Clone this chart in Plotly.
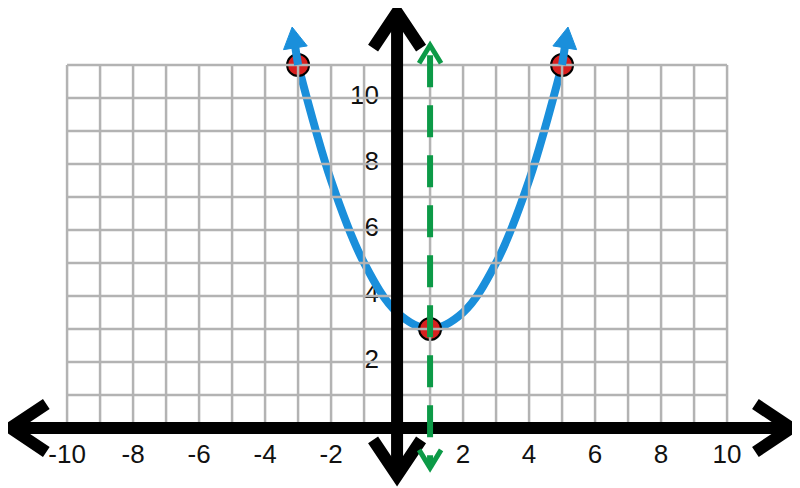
import math
import plotly.graph_objects as go

# ------------------------------------------------------------
# Data
# ------------------------------------------------------------
curve_x = [-3, -2, -1, 0, 1, 2, 3, 4, 5]
curve_y = [11, 7.5, 5, 3.5, 3, 3.5, 5, 7.5, 11]

point_x = [-3, 1, 5]
point_y = [11, 3, 11]

curve_tips = [(-3.18, 12.15), (5.18, 12.15)]   # where the blue arrows end
sym_x = 1                                       # axis of symmetry
sym_ends = (-1.21, 11.6)

x_tick_vals = [-10, -8, -6, -4, -2, 2, 4, 6, 8, 10]
y_tick_vals = [2, 4, 6, 8, 10]

grid_x = list(range(-10, 11))
grid_y = list(range(0, 12))

x_axis_ends = (-11.72, 11.95)
y_axis_ends = (-1.45, 12.6)

# the page body keeps an 8px margin, so the figure is 792x480
W, H = 792, 480
X_RANGE = [-11.79, 12.21]
Y_RANGE = [-1.82, 12.727]
PX = W / (X_RANGE[1] - X_RANGE[0])   # pixels per unit (same on both axes)

BLUE = "#1a8fdb"
RED = "#d8201f"
GREEN = "#0c9a47"
GREY = "#b3b3b3"
FONT = "Liberation Sans, Arial, sans-serif"


def head_path(tip, frm, length, half, closed=False):
    # arrow head at `tip`, pointing away from `frm`; length/half in pixels
    dx, dy = tip[0] - frm[0], tip[1] - frm[1]
    n = math.hypot(dx, dy)
    ux, uy = dx / n, dy / n
    bx, by = tip[0] - ux * length / PX, tip[1] - uy * length / PX
    ax_, ay_ = bx - uy * half / PX, by + ux * half / PX
    cx, cy = bx + uy * half / PX, by - ux * half / PX
    p = f"M{ax_},{ay_} L{tip[0]},{tip[1]} L{cx},{cy}"
    return p + " Z" if closed else p


shapes = []

# grid
for gx in grid_x:
    shapes.append(dict(type="line", x0=gx, x1=gx, y0=grid_y[0], y1=grid_y[-1],
                       line=dict(color=GREY, width=2.5)))
for gy in grid_y:
    shapes.append(dict(type="line", x0=grid_x[0], x1=grid_x[-1], y0=gy, y1=gy,
                       line=dict(color=GREY, width=2.5)))

# black axes with open arrow heads
axis_line = dict(color="black", width=12)
shapes.append(dict(type="line", x0=x_axis_ends[0], x1=x_axis_ends[1], y0=0, y1=0,
                   line=axis_line))
shapes.append(dict(type="line", x0=0, x1=0, y0=y_axis_ends[0], y1=y_axis_ends[1],
                   line=axis_line))
for tip in [(x_axis_ends[0], 0), (x_axis_ends[1], 0),
            (0, y_axis_ends[0]), (0, y_axis_ends[1])]:
    shapes.append(dict(type="path", path=head_path(tip, (0, 0), 36, 24),
                       line=axis_line))

# green dashed axis of symmetry
shapes.append(dict(type="line", x0=sym_x, x1=sym_x,
                   y0=sym_ends[1] - 10 / PX, y1=sym_ends[0],
                   line=dict(color=GREEN, width=6, dash="32px,18px")))
for tip in [(sym_x, sym_ends[0]), (sym_x, sym_ends[1])]:
    shapes.append(dict(type="path", path=head_path(tip, (sym_x, 3), 18, 11),
                       line=dict(color=GREEN, width=5)))

# blue arrow heads at the curve ends
for (tx, ty), px_, py_ in [(curve_tips[0], point_x[0], point_y[0]),
                           (curve_tips[1], point_x[-1], point_y[-1])]:
    dx, dy = tx - px_, ty - py_
    n = math.hypot(dx, dy)
    bx, by = tx - dx / n * 18 / PX, ty - dy / n * 18 / PX
    shapes.append(dict(type="line", x0=px_, y0=py_, x1=bx, y1=by,
                       line=dict(color=BLUE, width=8)))
    shapes.append(dict(type="path", path=head_path((tx, ty), (px_, py_), 21, 12, True),
                       fillcolor=BLUE, line=dict(color=BLUE, width=1)))

fig = go.Figure()

# tick labels (under the curve)
fig.add_trace(go.Scatter(
    x=x_tick_vals, y=[-0.88] * len(x_tick_vals),
    mode="text", text=[str(v) for v in x_tick_vals],
    textposition="middle center",
    textfont=dict(family=FONT, size=26, color="#111111"),
    hoverinfo="skip"))
fig.add_trace(go.Scatter(
    x=[-0.55] * len(y_tick_vals), y=y_tick_vals,
    mode="text", text=[str(v) for v in y_tick_vals],
    textposition="middle left",
    textfont=dict(family=FONT, size=26, color="#111111"),
    hoverinfo="skip"))

# parabola
fig.add_trace(go.Scatter(
    x=curve_x, y=curve_y, mode="lines",
    line=dict(color=BLUE, width=8, shape="spline", smoothing=1.0),
    hoverinfo="skip"))

# red points
fig.add_trace(go.Scatter(
    x=point_x, y=point_y, mode="markers",
    marker=dict(color=RED, size=22, line=dict(color="black", width=2))))

fig.update_layout(
    width=W, height=H,
    margin=dict(l=0, r=0, t=0, b=0),
    paper_bgcolor="white", plot_bgcolor="white",
    showlegend=False,
    shapes=shapes,
    xaxis=dict(range=X_RANGE, visible=False, fixedrange=True),
    yaxis=dict(range=Y_RANGE, visible=False, fixedrange=True),
)

fig.write_html("out.html")
